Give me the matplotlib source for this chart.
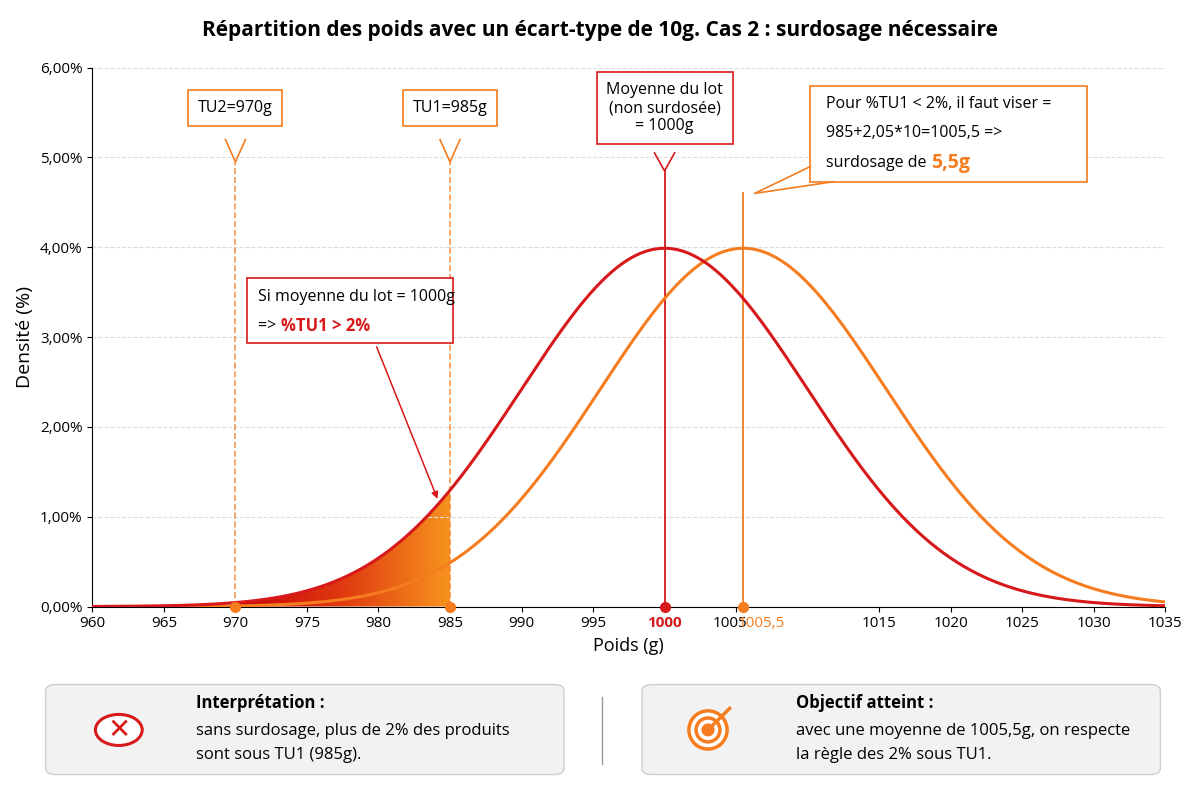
import matplotlib.pyplot as plt
import numpy as np
from matplotlib.patches import FancyBboxPatch, Circle, Polygon, Rectangle
from matplotlib.colors import LinearSegmentedColormap
from matplotlib.transforms import offset_copy

plt.rcParams['font.family'] = ['Open Sans', 'DejaVu Sans']

# donnees
moyenne_lot = 1000.0
moyenne_surdosee = 1005.5
ecart_type = 10.0
tu2 = 970
tu1 = 985
xticks = [960, 965, 970, 975, 980, 985, 990, 995, 1000, 1005, 1005.5, 1015, 1020, 1025, 1030, 1035]
xlabels = ['960', '965', '970', '975', '980', '985', '990', '995', '1000', '1005', '1005,5',
           '1015', '1020', '1025', '1030', '1035']
yticks = [0, 1, 2, 3, 4, 5, 6]

ROUGE = '#d7191c'
ORANGE = '#f57c1f'

def densite(x, m, s):
    return 100 * np.exp(-0.5 * ((x - m) / s) ** 2) / (s * np.sqrt(2 * np.pi))

fig = plt.figure(figsize=(12, 7.96), dpi=100)
ax = fig.add_axes([0.077, 0.238, 0.894, 0.677])

x = np.linspace(960, 1035, 800)
y1 = densite(x, moyenne_lot, ecart_type)
y2 = densite(x, moyenne_surdosee, ecart_type)

# zone ombree degrade
xs = np.linspace(965, tu1, 200)
poly = Polygon(np.column_stack([np.r_[xs, tu1, 965], np.r_[densite(xs, moyenne_lot, ecart_type), 0, 0]]),
               closed=True, facecolor='none', edgecolor='none')
ax.add_patch(poly)
cmap = LinearSegmentedColormap.from_list('g', ['#c8000a', '#e03a10', '#f7931e'])
grad = np.linspace(0, 1, 256).reshape(1, -1)
im = ax.imshow(grad, extent=[970, tu1, 0, 1.4], aspect='auto', cmap=cmap, zorder=1)
im.set_clip_path(poly)

ax.plot(x, y2, color=ORANGE, lw=2.2, zorder=3)
ax.plot(x, y1, color=ROUGE, lw=2.2, zorder=3)

# lignes verticales
ax.plot([tu2, tu2], [0, 4.95], color=ORANGE, lw=1.2, ls='--', alpha=0.8)
ax.plot([tu1, tu1], [0, 4.95], color=ORANGE, lw=1.2, ls='--', alpha=0.8)
ax.plot([moyenne_lot] * 2, [0, 4.85], color=ROUGE, lw=1.3)
ax.plot([moyenne_surdosee] * 2, [0, 4.6], color=ORANGE, lw=1.3)
for xv, c in [(tu2, ORANGE), (tu1, ORANGE), (moyenne_lot, ROUGE), (moyenne_surdosee, ORANGE)]:
    ax.plot(xv, 0, 'o', color=c, ms=7, zorder=5, clip_on=False)

ax.set_xlim(960, 1035)
ax.set_ylim(0, 6)
ax.set_xticks(xticks)
ax.set_xticklabels(xlabels, fontsize=11)
for lab in ax.get_xticklabels():
    if lab.get_text() == '1000':
        lab.set_color(ROUGE); lab.set_fontweight('bold')
    if lab.get_text() == '1005':
        lab.set_transform(offset_copy(lab.get_transform(), fig=fig, x=-6, units='dots'))
    if lab.get_text() == '1005,5':
        lab.set_color(ORANGE)
        lab.set_transform(offset_copy(lab.get_transform(), fig=fig, x=18, units='dots'))
ax.set_yticks(yticks)
ax.set_yticklabels([f'{v},00%' for v in yticks], fontsize=11)
ax.grid(axis='y', ls='--', color='#dddddd')
for s in ['top', 'right']:
    ax.spines[s].set_visible(False)
ax.set_xlabel('Poids (g)', fontsize=13)
ax.set_ylabel('Densité (%)', fontsize=14)
fig.suptitle('Répartition des poids avec un écart-type de 10g. Cas 2 : surdosage nécessaire',
             fontsize=15, fontweight='bold', y=0.975)

def boite(xc, yc, txt, col, fs=11.5):
    ax.text(xc, yc, txt, ha='center', va='center', fontsize=fs, zorder=6,
            bbox=dict(boxstyle='square,pad=0.6', fc='white', ec=col, lw=1.2))

def cadre(x0, y0, w, h, col):
    ax.add_patch(Rectangle((x0, y0), w, h, fc='white', ec=col, lw=1.2, zorder=6))

boite(tu2, 5.55, 'TU2=970g', ORANGE)
ax.plot([tu2 - 0.7, tu2, tu2 + 0.7], [5.2, 4.95, 5.2], color=ORANGE, lw=1.2, zorder=7)
boite(tu1, 5.55, 'TU1=985g', ORANGE)
ax.plot([tu1 - 0.7, tu1, tu1 + 0.7], [5.2, 4.95, 5.2], color=ORANGE, lw=1.2, zorder=7)
boite(moyenne_lot, 5.55, 'Moyenne du lot\n(non surdosée)\n= 1000g', ROUGE)
ax.plot([999.3, moyenne_lot, 1000.7], [5.05, 4.85, 5.05], color=ROUGE, lw=1.2, zorder=7)

# boite objectif
cadre(1010.2, 4.73, 19.3, 1.07, ORANGE)
ax.text(1011.3, 5.6, 'Pour %TU1 < 2%, il faut viser =', fontsize=11.5, va='center', zorder=7)
ax.text(1011.3, 5.27, '985+2,05*10=1005,5 =>', fontsize=11.5, va='center', zorder=7)
t = ax.text(1011.3, 4.94, 'surdosage de ', fontsize=11.5, va='center', zorder=7)
ax.annotate('5,5g', xy=(1, 0.5), xycoords=t, va='center', ha='left', color=ORANGE,
            fontweight='bold', fontsize=14, zorder=7)
ax.plot([1010.2, 1006.3, 1011.8], [4.9, 4.6, 4.73], color=ORANGE, lw=1.2, zorder=7)

# boite rouge
cadre(970.8, 2.93, 14.4, 0.73, ROUGE)
ax.text(971.6, 3.45, 'Si moyenne du lot = 1000g', fontsize=11.5, va='center', zorder=7)
t2 = ax.text(971.6, 3.12, '=> ', fontsize=11.5, va='center', zorder=7)
ax.annotate('%TU1 > 2%', xy=(1, 0.5), xycoords=t2, va='center', ha='left', color=ROUGE,
            fontweight='bold', fontsize=12, zorder=7)
ax.annotate('', xy=(984.2, 1.17), xytext=(979.8, 2.92),
            arrowprops=dict(arrowstyle='-|>', color=ROUGE, lw=1.1))

# panneaux du bas
for x0 in [0.038, 0.535]:
    fig.patches.append(FancyBboxPatch((x0, 0.027), 0.432, 0.113, boxstyle='round,pad=0,rounding_size=0.008',
                                      transform=fig.transFigure, fc='#f2f2f2', ec='#cfcfcf', lw=1, zorder=0))
fig.add_artist(plt.Line2D([0.502, 0.502], [0.04, 0.125], color='#999999', lw=1))
fig.add_artist(Circle((0.099, 0.083), 0.0195, transform=fig.transFigure, fc='white', ec=ROUGE, lw=2.2, zorder=5))
fig.text(0.099, 0.083, '✕', color=ROUGE, fontsize=20, ha='center', va='center', family='DejaVu Sans', zorder=6)
ar = 796 / 1200
from matplotlib.patches import Ellipse
for r in [0.024, 0.015, 0.006]:
    fig.add_artist(Ellipse((0.59, 0.083), 2 * r * ar, 2 * r, transform=fig.transFigure,
                           fc=ORANGE if r == 0.006 else 'white', ec=ORANGE, lw=2.5, zorder=5))
fig.add_artist(plt.Line2D([0.59, 0.608], [0.083, 0.11], color=ORANGE, lw=2.5, zorder=6))
fig.text(0.163, 0.117, 'Interprétation :', fontsize=12, fontweight='bold', va='center')
fig.text(0.163, 0.082, 'sans surdosage, plus de 2% des produits', fontsize=12, va='center')
fig.text(0.163, 0.052, 'sont sous TU1 (985g).', fontsize=12, va='center')
fig.text(0.663, 0.117, 'Objectif atteint :', fontsize=12, fontweight='bold', va='center')
fig.text(0.663, 0.082, 'avec une moyenne de 1005,5g, on respecte', fontsize=12, va='center')
fig.text(0.663, 0.052, 'la règle des 2% sous TU1.', fontsize=12, va='center')

fig.savefig('out.png', dpi=100)
